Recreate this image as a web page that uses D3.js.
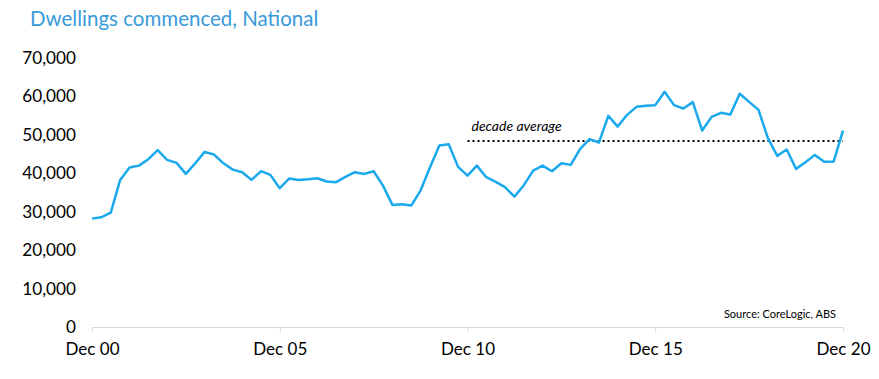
<!DOCTYPE html>
<html><head><meta charset="utf-8">
<script src="https://cdn.jsdelivr.net/npm/d3@7"></script>
<style>body{margin:0;background:#fff;}svg{display:block;}</style>
</head><body>
<svg id="chart" width="879" height="379"></svg>
<script>
const quarters = d3.range(81); // quarter index from Dec 00
const values = [28200,28560,29770,38280,41490,42000,43670,46010,43490,42700,
  39840,42600,45570,44870,42600,40960,40280,38280,40540,39580,
  36110,38620,38280,38450,38720,37850,37680,39060,40280,39840,
  40540,36800,31770,31950,31600,35500,41490,47220,47570,41670,
  39400,42000,38980,37760,36380,33930,36900,40700,42000,40540,
  42630,42190,46350,48880,48000,54950,52160,55210,57290,57550,
  57730,61200,57730,56850,58520,51120,54690,55730,55290,60680,
  58590,56510,49140,44530,46170,41150,42890,44790,42970,43050,51120];
const yTicks = [0,10000,20000,30000,40000,50000,60000,70000];
const xTickIdx = [0,20,40,60,80];
const xTickLabels = ["Dec 00","Dec 05","Dec 10","Dec 15","Dec 20"];
const decadeAvg = 48400;
const decadeStart = 40, decadeEnd = 80;

const svg = d3.select("#chart");
const font = "Lato, sans-serif";
const x = d3.scaleLinear().domain([0,80]).range([92,843]);
const y = d3.scaleLinear().domain([0,70000]).range([327,58]);

svg.append("text").attr("x",30).attr("y",26).attr("fill","#3a9ad9")
  .style("font-family",font).style("font-size","20.5px").text("Dwellings commenced, National");

// y labels
svg.append("g").selectAll("text").data(yTicks).join("text")
  .attr("x",76).attr("y",d=>y(d)).attr("dy","0.35em").attr("text-anchor","end")
  .style("font-family",font).style("font-size","17.2px").attr("fill","#000")
  .text(d=>d3.format(",")(d));

// x axis
const xa = svg.append("g").attr("transform","translate(0,327)")
  .call(d3.axisBottom(x).tickValues(xTickIdx).tickSize(5).tickSizeOuter(0)
    .tickFormat((d,i)=>xTickLabels[i]));
xa.select(".domain").attr("stroke","#d9d9d9");
xa.selectAll(".tick line").attr("stroke","#d9d9d9");
xa.selectAll(".tick text").attr("y",16).style("font-family",font).style("font-size","17px").attr("fill","#000");

// decade average
svg.append("line").attr("x1",x(decadeStart)).attr("x2",x(decadeEnd))
  .attr("y1",y(decadeAvg)).attr("y2",y(decadeAvg))
  .attr("stroke","#000").attr("stroke-width",2).attr("stroke-dasharray","2,3");
svg.append("text").attr("x",x(decadeStart)+4).attr("y",y(decadeAvg)-10)
  .style("font-family",font).style("font-size","14px").style("font-style","italic")
  .attr("fill","#000").text("decade average");

// line
svg.append("path").datum(quarters).attr("fill","none").attr("stroke","#19a9ec")
  .attr("stroke-width",2.5).attr("stroke-linejoin","round")
  .attr("d",d3.line().x(i=>x(i)).y(i=>y(values[i])));

svg.append("text").attr("x",836).attr("y",318).attr("text-anchor","end")
  .style("font-family",font).style("font-size","11px").attr("fill","#000")
  .text("Source: CoreLogic, ABS");
</script>
</body></html>
